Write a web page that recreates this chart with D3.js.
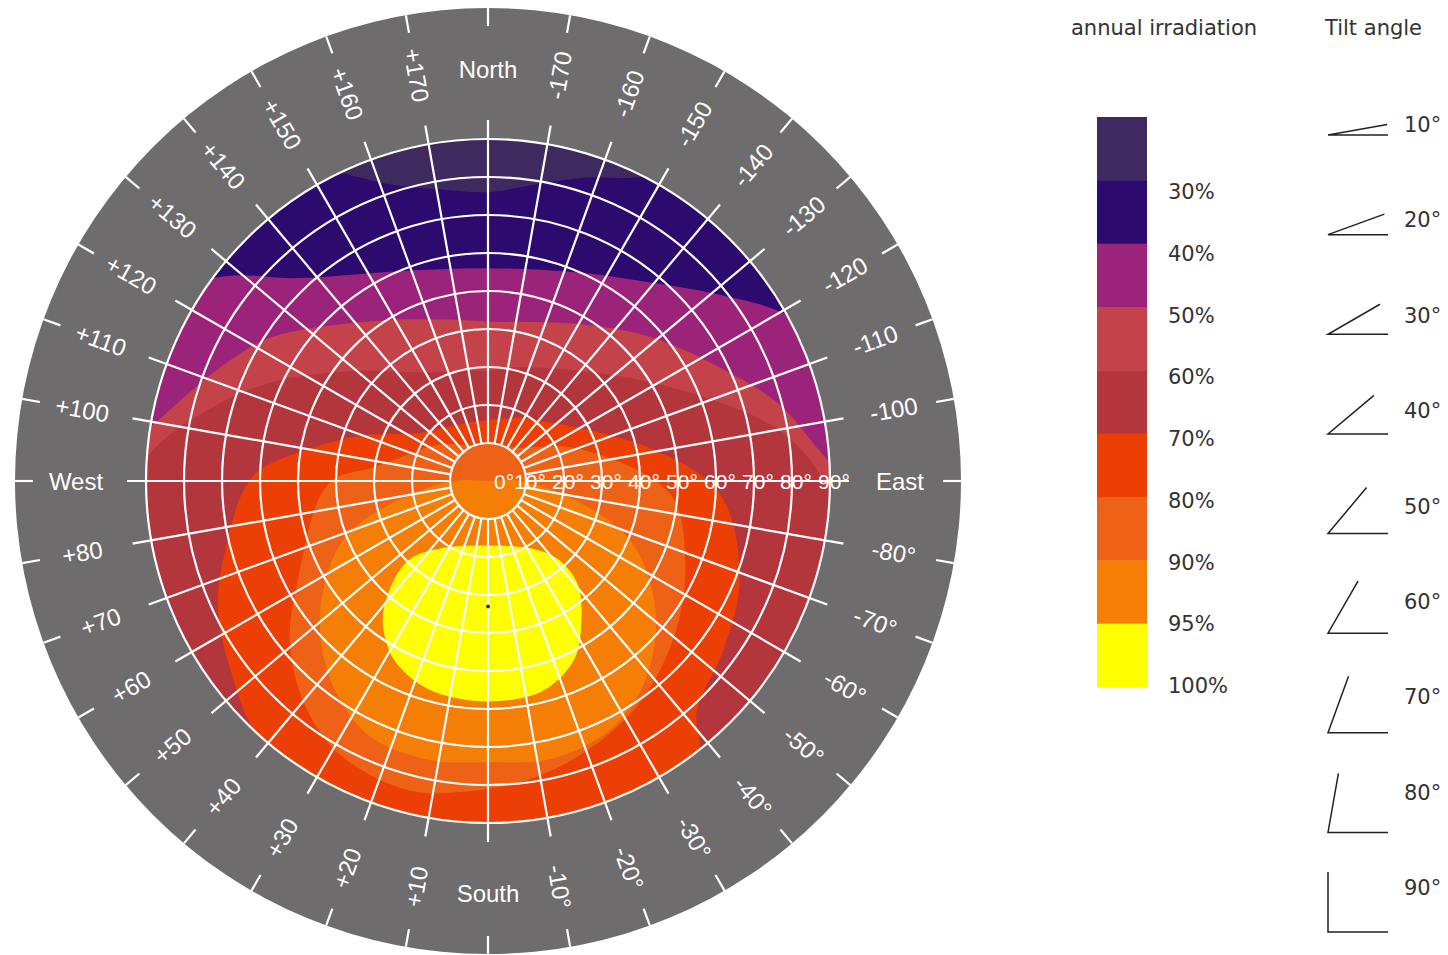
<!DOCTYPE html>
<html lang="en">
<head>
  <meta charset="utf-8">
  <style>
    html, body {
      margin: 0;
      padding: 0;
      background: #fff;
      overflow: hidden;
    }
    svg { display: block; }
    .ring { font-family: "Liberation Sans", Arial, sans-serif; font-size: 24px; fill: #fff; }
    .tiltlab { font-family: "Liberation Sans", Arial, sans-serif; font-size: 21px; fill: #fff; }
    .leg { font-family: "DejaVu Sans", sans-serif; font-size: 21px; fill: #333; }
  </style>
</head>
<body>
<svg width="1448" height="955"></svg>

<script src="https://d3js.org/d3.v7.min.js"></script>
<script>
// ---- data ----
// bands, lowest first
const bandLabels = ["30%", "40%", "50%", "60%", "70%", "80%", "90%", "95%", "100%"];
const bandColors = ["#3f2a5f", "#2d0a6e", "#9b2379", "#c4434a", "#b4363d", "#eb3f05", "#ee6218", "#f57e07", "#ffff00"];

// contour lines as [azimuth, tilt] (azimuth: 0 = South, +90 = West, -90 = East)
// tilt > 90 lies outside the plot and is clipped away
const c30 = [[180,76],[170,78],[162,82],[156,88],[152,93],[130,120],[90,150],[0,170],[-90,150],[-130,120],[-150,93],[-155,88],[-162,84],[-171,79]];
const c40 = [[180,56],[157,60],[137,73],[127,89],[110,115],[60,140],[0,150],[-60,140],[-100,120],[-120,89],[-129,78],[-140,68],[-156,60]];
const c50 = [[180,42],[165,44],[144,52],[124,68],[115,75],[99,90],[85,115],[0,140],[-80,115],[-94,89],[-105,79],[-116,68],[-131,57.5],[-148,48.5]];
const c60 = [[180,29],[165,30],[150,33],[130,45],[115,62],[105,75],[94,90],[70,120],[0,130],[-60,120],[-88,90],[-99,79],[-109,64],[-129,44],[-165,31]];
const c70 = [[180,16],[150,17],[125,22],[110,35],[100,48],[91,62],[73,73],[64,79],[52,85],[43,90],[20,102],[0,106],[-20,102],[-38,90],[-42,82],[-55,76],[-69,71],[-87,61],[-101,44],[-118,29],[-135,22],[-154,18.5]];
const c80 = [[180,10],[150,11],[127,16],[97,30],[89,42],[63,56],[50,68],[38,77],[28,82],[14,84],[0,81],[-9,79],[-22,75],[-36,70],[-52,63],[-68,56],[-86,48],[-110,25],[-137,12],[-160,10]];
const c90 = [[0,0],[90,9],[78,24],[68,41],[52,56],[38,67],[25,74],[12,75],[0,74],[-13,75],[-26,73],[-38,67],[-52,56],[-67,41],[-78,23],[-90,8.5]];
const c95 = [[0,17],[36,22],[45,29],[43,37],[37,46],[28,53],[16,57],[0,58],[-15,57],[-26,52],[-34,44],[-41,36],[-42,28],[-35,22]];
const contours = [c30, c40, c50, c60, c70, c80, c90, c95];

const optimum = [0, 33];

const tiltTicks = [0, 10, 20, 30, 40, 50, 60, 70, 80, 90];
// every 10 degrees of azimuth, starting at South going west
const ringLabels = ["South", "+10", "+20", "+30", "+40", "+50", "+60", "+70", "+80", "West",
  "+100", "+110", "+120", "+130", "+140", "+150", "+160", "+170", "North",
  "-170", "-160", "-150", "-140", "-130", "-120", "-110", "-100", "East",
  "-80°", "-70°", "-60°", "-50°", "-40°", "-30°", "-20°", "-10°"];
const cardinals = ["North", "South", "East", "West"];

const tiltAngles = [10, 20, 30, 40, 50, 60, 70, 80, 90];

// ---- drawing ----
const svg = d3.select("svg");
const cx = 488, cy = 481;
const outerR = 473;
const r = d3.scaleLinear().domain([0, 90]).range([0, 342]);
const rad = d => d * Math.PI / 180;

function project([az, tilt]) {
  const rr = r(tilt);
  return [cx - rr * Math.sin(rad(az)), cy + rr * Math.cos(rad(az))];
}

svg.append("defs").append("clipPath").attr("id", "disc")
  .append("circle").attr("cx", cx).attr("cy", cy).attr("r", r(90));

// grey ring
svg.append("circle")
  .attr("cx", cx).attr("cy", cy).attr("r", outerR)
  .attr("fill", "#6e6c6c");

// colour bands
const field = svg.append("g").attr("clip-path", "url(#disc)");
field.append("circle")
  .attr("cx", cx).attr("cy", cy).attr("r", r(90))
  .attr("fill", bandColors[0]);

const line = d3.line().curve(d3.curveCatmullRomClosed.alpha(0.5));
field.selectAll("path.band")
  .data(contours)
  .join("path")
  .attr("class", "band")
  .attr("d", d => line(d.map(project)))
  .attr("fill", (d, i) => bandColors[i + 1]);

// grid
const grid = svg.append("g")
  .attr("stroke", "#fff")
  .attr("stroke-width", 2.2)
  .attr("fill", "none");

grid.selectAll("circle")
  .data(tiltTicks.slice(1))
  .join("circle")
  .attr("cx", cx).attr("cy", cy)
  .attr("r", d => r(d));

grid.selectAll("line.spoke")
  .data(ringLabels)
  .join("line")
  .attr("class", "spoke")
  .each(function(d, i) {
    const a = i * 10;
    const p0 = project([a, 10]);
    const p1 = project([a, 95]);
    d3.select(this).attr("x1", p0[0]).attr("y1", p0[1]).attr("x2", p1[0]).attr("y2", p1[1]);
  });

grid.selectAll("line.tick")
  .data(ringLabels)
  .join("line")
  .attr("class", "tick")
  .each(function(d, i) {
    const a = rad(i * 10);
    d3.select(this)
      .attr("x1", cx - 455 * Math.sin(a)).attr("y1", cy + 455 * Math.cos(a))
      .attr("x2", cx - outerR * Math.sin(a)).attr("y2", cy + outerR * Math.cos(a));
  });

// optimum marker
const opt = project(optimum);
svg.append("circle").attr("cx", opt[0]).attr("cy", opt[1]).attr("r", 2).attr("fill", "#333");

// tilt labels along the east axis
svg.append("g").selectAll("text")
  .data(tiltTicks)
  .join("text")
  .attr("class", "tiltlab")
  .attr("x", d => d === 0 ? cx + 16 : cx + r(d) + 4)
  .attr("y", cy)
  .attr("text-anchor", "middle")
  .attr("dominant-baseline", "central")
  .text(d => d + "°");

// azimuth labels in the ring
svg.append("g").selectAll("text")
  .data(ringLabels)
  .join("text")
  .attr("class", "ring")
  .attr("text-anchor", "middle")
  .attr("dominant-baseline", "central")
  .attr("transform", (d, i) => {
    const a = i * 10;
    const x = cx - 412 * Math.sin(rad(a));
    const y = cy + 412 * Math.cos(rad(a));
    let rot = 0;
    if (!cardinals.includes(d)) rot = a < 180 ? a - 90 : a - 270;
    return `translate(${x},${y}) rotate(${rot})`;
  })
  .text(d => d);

// ---- legend: annual irradiation ----
const leg = svg.append("g");
leg.append("text").attr("class", "leg").attr("x", 1071).attr("y", 35).text("annual irradiation");

const legY = d3.scaleLinear().domain([0, bandColors.length]).range([117, 687]);
leg.selectAll("rect")
  .data(bandColors)
  .join("rect")
  .attr("x", 1097)
  .attr("width", 50)
  .attr("y", (d, i) => legY(i))
  .attr("height", (d, i) => legY(i + 1) - legY(i) + 0.5)
  .attr("fill", d => d);

const valY = d3.scaleLinear().domain([0, bandLabels.length - 1]).range([192, 686]);
leg.selectAll("text.val")
  .data(bandLabels)
  .join("text")
  .attr("class", "leg val")
  .attr("x", 1168)
  .attr("y", (d, i) => valY(i))
  .attr("dominant-baseline", "central")
  .text(d => d);

// ---- legend: tilt angle ----
const tl = svg.append("g");
tl.append("text").attr("class", "leg").attr("x", 1325).attr("y", 35).text("Tilt angle");

const iconY = d3.scaleLinear().domain([0, tiltAngles.length - 1]).range([135, 932]);
const labY = d3.scaleLinear().domain([0, tiltAngles.length - 1]).range([132, 895]);
const icon = tl.selectAll("g.icon")
  .data(tiltAngles)
  .join("g")
  .attr("class", "icon")
  .attr("transform", (d, i) => `translate(1328,${iconY(i)})`);

icon.append("path")
  .attr("d", d => `M60,0 L0,0 L${60 * Math.cos(rad(d))},${-60 * Math.sin(rad(d))}`)
  .attr("fill", "none")
  .attr("stroke", "#222")
  .attr("stroke-width", 1.5);

tl.selectAll("text.ang")
  .data(tiltAngles)
  .join("text")
  .attr("class", "leg ang")
  .attr("x", 1404)
  .attr("y", (d, i) => labY(i))
  .text(d => d + "°");
</script>
</body>
</html>
